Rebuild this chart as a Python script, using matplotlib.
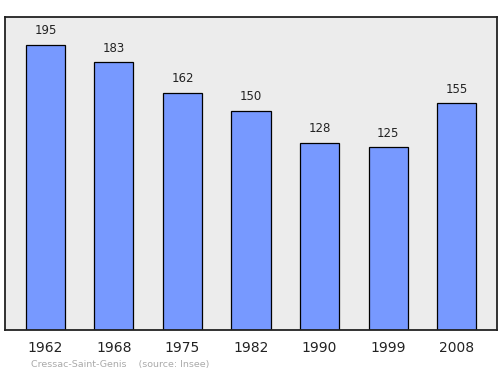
import matplotlib
matplotlib.use("Agg")
import matplotlib.pyplot as plt

years = ["1962", "1968", "1975", "1982", "1990", "1999", "2008"]
population = [195, 183, 162, 150, 128, 125, 155]

fig = plt.figure(figsize=(5.0, 3.74), dpi=100)
ax = fig.add_axes([5/500, 1 - 330/374, 492/500, 313/374])
ax.set_facecolor("#ececec")
x = list(range(len(years)))
ax.bar(x, population, width=0.57, color="#7799ff", edgecolor="#000000", linewidth=0.9, zorder=2)
for xi, v in zip(x, population):
    ax.annotate(str(v), (xi, v), xytext=(0, 5.5), textcoords="offset points",
                ha="center", va="bottom", fontsize=8.5, color="#222222")
ax.set_xlim(-0.59, 6.59)
ax.set_ylim(0, 214)
ax.set_yticks([])
ax.set_xticks(x)
ax.set_xticklabels(years, fontsize=10, color="#222222")
ax.tick_params(axis="x", length=0, pad=8)
for s in ax.spines.values():
    s.set_linewidth(1.3)
    s.set_color("#222222")
fig.text(31/500, 1 - 365/374, "Cressac-Saint-Genis    (source: Insee)", fontsize=6.8,
         color="#aaaaaa", ha="left", va="center")
fig.savefig("out.png", dpi=100)
